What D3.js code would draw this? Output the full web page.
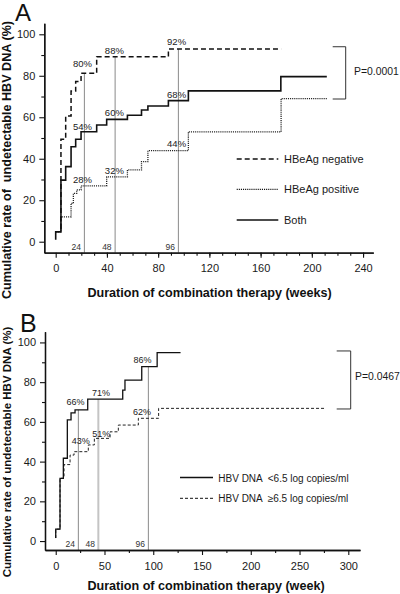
<!DOCTYPE html>
<html><head><meta charset="utf-8">
<script src="https://cdn.jsdelivr.net/npm/d3@7"></script>
<style>
html,body{margin:0;padding:0;background:#fff;}
svg{display:block;font-family:"Liberation Sans",Arial,Helvetica,sans-serif;}
text{white-space:pre;}
</style></head>
<body><svg id="c" width="400" height="594"></svg>
<script>
// ---------- DATA (weeks, cumulative %) ----------
// Panel A
const bothWeeks = [0, 0, 4.1, 7.8, 12, 15.6, 19.8, 32, 39.8, 56, 67, 72, 88, 103.6, 175.8];
const bothRate  = [1, 4.8, 29.7, 36.2, 45.8, 49.4, 53, 56.3, 59, 61, 63.5, 65.4, 68, 72.7, 79.6];
const bothEnd = 211.7;
const negWeeks = [0, 4.1, 7.8, 12, 15.6, 19.8, 32, 88];
const negRate  = [4.8, 49.4, 60.6, 72.6, 77.2, 81.2, 89.2, 92.9];
const negEnd = 176;
const posWeeks = [0, 4.1, 12, 13.8, 16.4, 19.8, 39.8, 56, 67, 72, 103.6, 176];
const posRate  = [4.8, 12, 18.5, 23.3, 25, 26.9, 31.3, 34.6, 38.6, 43.9, 53, 69];
const posEnd = 211.7;
const legendA = ["HBeAg negative", "HBeAg positive", "Both"];
const pctLabelsA = [["80%","88%","92%"],["54%","60%","68%"],["28%","32%","44%"]];
const refLabels = ["24", "48", "96"];
const pValueA = "P=0.0001";
const xTicksA = [0, 40, 80, 120, 160, 200, 240];
const yTicks = [0, 20, 40, 60, 80, 100];

// Panel B
const lowWeeks = [0, 0, 4.4, 7.8, 11.9, 15.7, 19.8, 32.8, 68.7, 71, 88.2, 104];
const lowRate  = [1.5, 6, 31.6, 41.7, 61, 64.5, 66, 71.5, 76, 81, 87.8, 94.9];
const lowEnd = 128;
const highWeeks = [0, 0, 4.4, 8.5, 14.7, 18.8, 33.4, 39.6, 55.7, 64.2, 84.7, 105.5];
const highRate  = [1.5, 6, 31.6, 38.5, 43.3, 45, 48.4, 51.7, 55, 58.4, 61.8, 66.8];
const highEnd = 277;
const legendB = ["HBV DNA  <6.5 log copies/ml", "HBV DNA  \u22656.5 log copies/ml"];
const pctLabelsB = [["66%","71%","86%"],["43%","51%","62%"]];
const pValueB = "P=0.0467";
const xTicksB = [0, 50, 100, 150, 200, 250, 300];

// ---------- DRAWING ----------
const svg = d3.select("#c");
const TXT = "#1a1a1a";

function series(T, V, end){ const p = T.map((t,i)=>[t,V[i]]); p.push([end, V[V.length-1]]); return p; }
function valueAt(T, V, w){ let v = V[0]; for(let i=0;i<T.length;i++){ if(T[i]<=w) v=V[i]; } return v; }

function drawAxes(g, x, y, majorX, minorX, majorY, minorY){
  const ax = g.append("g").attr("transform",`translate(0,${y.range()[0]})`);
  ax.call(d3.axisBottom(x).tickValues(minorX).tickSize(3).tickSizeOuter(0).tickFormat(""));
  ax.append("g").call(d3.axisBottom(x).tickValues(majorX).tickSize(5).tickSizeOuter(0).tickPadding(7));
  const ay = g.append("g").attr("transform",`translate(${x.range()[0]},0)`);
  ay.call(d3.axisLeft(y).tickValues(minorY).tickSize(3).tickSizeOuter(0).tickFormat(""));
  ay.append("g").call(d3.axisLeft(y).tickValues(majorY).tickSize(5).tickSizeOuter(0).tickPadding(4));
  g.selectAll(".domain").attr("stroke","#111").attr("stroke-width",1.3);
  g.selectAll(".tick line").attr("stroke","#111").attr("stroke-width",1.1);
  g.selectAll(".tick text").attr("font-size",11).attr("fill",TXT).attr("font-family",'"Liberation Sans",Arial,sans-serif');
}

// ===== Panel A =====
const xA = d3.scaleLinear().domain([-8.9, 248]).range([44.3, 373.3]);
const yA = d3.scaleLinear().domain([-5.3, 105.3]).range([252.7, 23.3]);
const gA = svg.append("g");
const lineA = d3.line().x(d=>xA(d[0])).y(d=>yA(d[1])).curve(d3.curveStepAfter);

// reference lines
const refPosA = [22.4, 46.4, 95.8];
refPosA.forEach((w,i)=>{
  const top = valueAt(negWeeks, negRate, w);
  gA.append("line").attr("x1",xA(w)).attr("x2",xA(w)).attr("y1",yA(top)).attr("y2",yA.range()[0])
    .attr("stroke","#8a8a8a").attr("stroke-width",1);
  gA.append("text").attr("x",xA(w)-3.5).attr("y",yA.range()[0]-3.2).attr("text-anchor","end")
    .attr("font-size",8.5).attr("fill","#333").text(refLabels[i]);
});

drawAxes(gA, xA, yA, xTicksA, d3.range(10,241,10), yTicks, [10,30,50,70,90]);

gA.append("path").attr("d",lineA(series(posWeeks,posRate,posEnd))).attr("fill","none")
  .attr("stroke","#222").attr("stroke-width",1.3).attr("stroke-dasharray","1.1,1");
gA.append("path").attr("d",lineA(series(negWeeks,negRate,negEnd))).attr("fill","none")
  .attr("stroke","#111").attr("stroke-width",1.5).attr("stroke-dasharray","5,3");
gA.append("path").attr("d",lineA(series(bothWeeks,bothRate,bothEnd))).attr("fill","none")
  .attr("stroke","#111").attr("stroke-width",1.6);

// percent labels
const pctPosA = [[20.9,45.8,94.4],[20.9,45.8,94.4],[20.9,45.8,94.4]];
const pctYA = [[84.1,90.5,94.8],[53.9,60.6,69.1],[28.2,32.5,45.5]];
pctLabelsA.forEach((row,r)=>row.forEach((t,i)=>{
  gA.append("text").attr("x",xA(pctPosA[r][i])).attr("y",yA(pctYA[r][i])).attr("text-anchor","middle")
    .attr("font-size",9.5).attr("fill","#222").text(t);
}));

// legend A
const legYA = [159, 189.3, 220];
const legStyleA = [["5,3",1.5],["1.1,1",1.3],[null,1.6]];
legendA.forEach((t,i)=>{
  const l = gA.append("line").attr("x1",236.7).attr("x2",278.3).attr("y1",legYA[i]).attr("y2",legYA[i])
    .attr("stroke","#111").attr("stroke-width",legStyleA[i][1]);
  if(legStyleA[i][0]) l.attr("stroke-dasharray",legStyleA[i][0]);
  gA.append("text").attr("x",284).attr("y",legYA[i]+4).attr("font-size",11).attr("fill",TXT).text(t);
});

// bracket A
gA.append("path").attr("d",`M332.7,${yA(94)}H345.7V${yA(68.8)}H332.7`).attr("fill","none")
  .attr("stroke","#333").attr("stroke-width",1);
gA.append("text").attr("x",354).attr("y",75).attr("font-size",10.4).attr("fill",TXT).text(pValueA);

// titles A
gA.append("text").attr("x",15).attr("y",21).attr("font-size",24).attr("fill","#111").text("A");
gA.append("text").attr("transform","translate(10.5,160) rotate(-90)").attr("text-anchor","middle")
  .attr("font-size",12.6).attr("font-weight","bold").attr("fill","#111").text("Cumulative rate of  undetectable HBV DNA (%)");
gA.append("text").attr("x",209.5).attr("y",297).attr("text-anchor","middle")
  .attr("font-size",12.6).attr("font-weight","bold").attr("fill","#111").text("Duration of combination therapy (weeks)");

// ===== Panel B =====
const xB = d3.scaleLinear().domain([-11, 312]).range([45, 360]);
const yB = d3.scaleLinear().domain([-4.5, 105.4]).range([550, 331.7]);
const gB = svg.append("g");
const lineB = d3.line().x(d=>xB(d[0])).y(d=>yB(d[1])).curve(d3.curveStepAfter);

const refPosB = [23.2, 43.7, 95];
const refStyleB = [["#8a8a8a",1],["#c4c4c4",2],["#8a8a8a",1]];
refPosB.forEach((w,i)=>{
  const top = valueAt(lowWeeks, lowRate, w);
  gB.append("line").attr("x1",xB(w)).attr("x2",xB(w)).attr("y1",yB(top)).attr("y2",yB.range()[0])
    .attr("stroke",refStyleB[i][0]).attr("stroke-width",refStyleB[i][1]);
  gB.append("text").attr("x",xB(w)-3.3).attr("y",yB.range()[0]-3.3).attr("text-anchor","end")
    .attr("font-size",8.5).attr("fill","#333").text(refLabels[i]);
});

drawAxes(gB, xB, yB, xTicksB, d3.range(25,300,50), yTicks, [10,30,50,70,90]);

gB.append("path").attr("d",lineB(series(highWeeks,highRate,highEnd))).attr("fill","none")
  .attr("stroke","#222").attr("stroke-width",1).attr("stroke-dasharray","3,2");
gB.append("path").attr("d",lineB(series(lowWeeks,lowRate,lowEnd))).attr("fill","none")
  .attr("stroke","#111").attr("stroke-width",1.3);

const pctPosB = [[20.3,46.5,89],[25.7,46.8,88.5]];
const pctYB = [[68.5,73,89.5],[48.7,52.2,63.5]];
pctLabelsB.forEach((row,r)=>row.forEach((t,i)=>{
  gB.append("text").attr("x",xB(pctPosB[r][i])).attr("y",yB(pctYB[r][i])).attr("text-anchor","middle")
    .attr("font-size",9).attr("fill","#222").text(t);
}));

const legYB = [477.5, 498.3];
legendB.forEach((t,i)=>{
  const l = gB.append("line").attr("x1",180).attr("x2",213).attr("y1",legYB[i]).attr("y2",legYB[i])
    .attr("stroke","#111").attr("stroke-width",i===0?1.3:1);
  if(i===1) l.attr("stroke-dasharray","3,2");
  gB.append("text").attr("x",218.3).attr("y",legYB[i]+4).attr("font-size",10).attr("fill",TXT).text(t);
});

gB.append("path").attr("d",`M336.7,${yB(95.7)}H350.7V${yB(66.5)}H336.7`).attr("fill","none")
  .attr("stroke","#333").attr("stroke-width",1);
gB.append("text").attr("x",355).attr("y",379.5).attr("font-size",10.4).attr("fill",TXT).text(pValueB);

gB.append("text").attr("x",20).attr("y",331.7).attr("font-size",25).attr("fill","#111").text("B");
gB.append("text").attr("transform","translate(10.5,452) rotate(-90)").attr("text-anchor","middle")
  .attr("font-size",11.5).attr("font-weight","bold").attr("fill","#111").text("Cumulative rate of undetectable HBV DNA (%)");
gB.append("text").attr("x",206).attr("y",590).attr("text-anchor","middle")
  .attr("font-size",12.6).attr("font-weight","bold").attr("fill","#111").text("Duration of combination therapy (week)");
</script></body></html>
